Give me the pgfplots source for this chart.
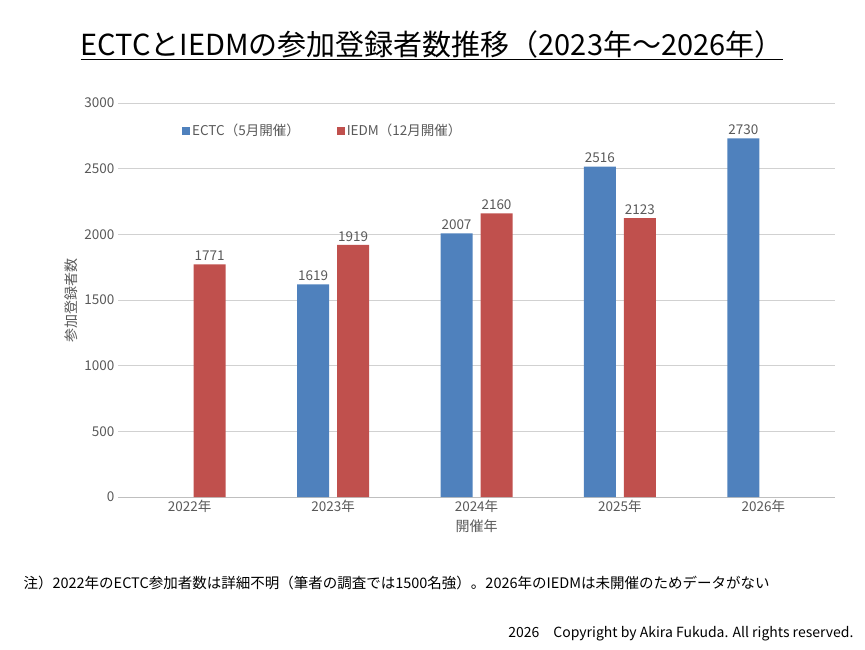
\documentclass[border=0pt]{standalone}
\usepackage{fontspec}
\setmainfont{Noto Sans CJK JP}
\usepackage{pgfplots}
\pgfplotsset{compat=1.18}
\definecolor{ectc}{HTML}{4F81BD}
\definecolor{iedm}{HTML}{C0504D}
\definecolor{txt}{HTML}{595959}
\begin{document}
\begin{tikzpicture}[x=1pt,y=1pt]
\path[use as bounding box] (0,0) rectangle (865,649);
\node[font=\fontsize{29}{33}\selectfont] at (432,604) {\underline{ECTCとIEDMの参加登録者数推移（2023年～2026年）}};
\begin{axis}[at={(189.7pt,152pt)}, anchor=origin, scale only axis,
  width=717pt, height=394pt,
  ybar=8pt, bar width=32pt,
  xmin=-0.5, xmax=4.5, ymin=0, ymax=3000,
  xtick={0,1,2,3,4}, xticklabels={2022年,2023年,2024年,2025年,2026年},
  ytick={0,500,...,3000},
  ymajorgrids, grid style={color=black!18},
  axis line style={draw=none}, y axis line style={draw=none},
  x axis line style={draw=black!25},
  axis x line*=bottom, axis y line*=left,
  major tick length=0pt,
  tick label style={font=\fontsize{13.5}{15}\selectfont, text=txt},
  /pgf/number format/assume math mode=true,
  /pgf/number format/1000 sep={},
  xlabel={開催年}, ylabel={参加登録者数},
  label style={font=\fontsize{14}{16}\selectfont, text=txt},
  nodes near coords,
  every node near coord/.append style={font=\fontsize{13.5}{15}\selectfont, text=txt},
  legend style={at={(0.085,0.93)}, anchor=west, draw=none, fill=none,
    legend columns=2, font=\fontsize{13.5}{15}\selectfont, text=txt,
    /tikz/every even column/.append style={column sep=35pt}},
  legend image code/.code={\fill[#1] (0,-4pt) rectangle (8pt,4pt);},
]
\addplot[fill=ectc, draw=none] coordinates {(1,1619) (2,2007) (3,2516) (4,2730)};
\addplot[fill=iedm, draw=none] coordinates {(0,1771) (1,1919) (2,2160) (3,2123)};
\legend{ECTC（5月開催）, IEDM（12月開催）}
\end{axis}
\node[anchor=west, font=\fontsize{14.5}{17}\selectfont] at (20,66) {注）2022年のECTC参加者数は詳細不明（筆者の調査では1500名強）。2026年のIEDMは未開催のためデータがない};
\node[anchor=east, font=\fontsize{14}{16}\selectfont] at (857,15) {2026\quad Copyright by Akira Fukuda. All rights reserved.};
\end{tikzpicture}
\end{document}
